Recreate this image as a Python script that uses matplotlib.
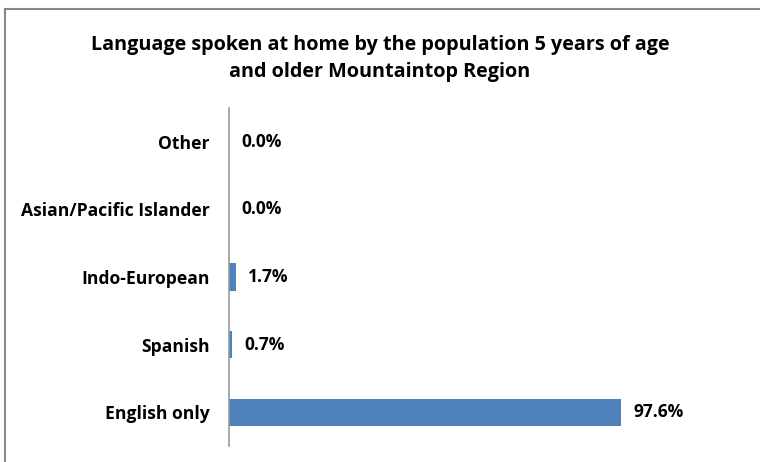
import matplotlib.pyplot as plt
from matplotlib.lines import Line2D

categories = ['English only', 'Spanish', 'Indo-European', 'Asian/Pacific Islander', 'Other']
values = [97.6, 0.7, 1.7, 0.0, 0.0]
value_labels = ['97.6%', '0.7%', '1.7%', '0.0%', '0.0%']

plt.rcParams['font.family'] = ['Open Sans', 'DejaVu Sans']

fig = plt.figure(figsize=(7.6, 4.62), dpi=100)
ax = fig.add_axes([229/760, 1-446/462, (711-229)/760, (446-108)/462])

ax.barh(range(len(categories)), values, height=0.4, color='#4F81BD')
ax.set_xlim(0, 120)
ax.set_ylim(-0.5, len(categories)-0.5)
ax.set_yticks(range(len(categories)))
ax.set_yticklabels(categories, fontsize=12.6, fontweight='bold')
ax.tick_params(axis='y', length=0, pad=14)
ax.set_xticks([])
for s in ['top', 'right', 'bottom']:
    ax.spines[s].set_visible(False)
ax.spines['left'].set_color('#999999')
ax.spines['left'].set_linewidth(1.2)

for i, (v, lab) in enumerate(zip(values, value_labels)):
    ax.annotate(lab, (v, i), xytext=(9, 0), textcoords='offset points',
                va='center', ha='left', fontsize=12.5, fontweight='bold')

fig.text(0.5, 1-45/462, 'Language spoken at home by the population 5 years of age',
         ha='center', va='center', fontsize=14.2, fontweight='bold')
fig.text(0.5, 1-72/462, 'and older Mountaintop Region',
         ha='center', va='center', fontsize=14.2, fontweight='bold')

# chart border (top and left edges visible)
fig.add_artist(Line2D([4.5/760, 1], [1-9/462, 1-9/462], color='#888888', lw=1.5, transform=fig.transFigure))
fig.add_artist(Line2D([4.5/760, 4.5/760], [0, 1-9/462], color='#888888', lw=1.5, transform=fig.transFigure))

fig.savefig('out.png', dpi=100)
